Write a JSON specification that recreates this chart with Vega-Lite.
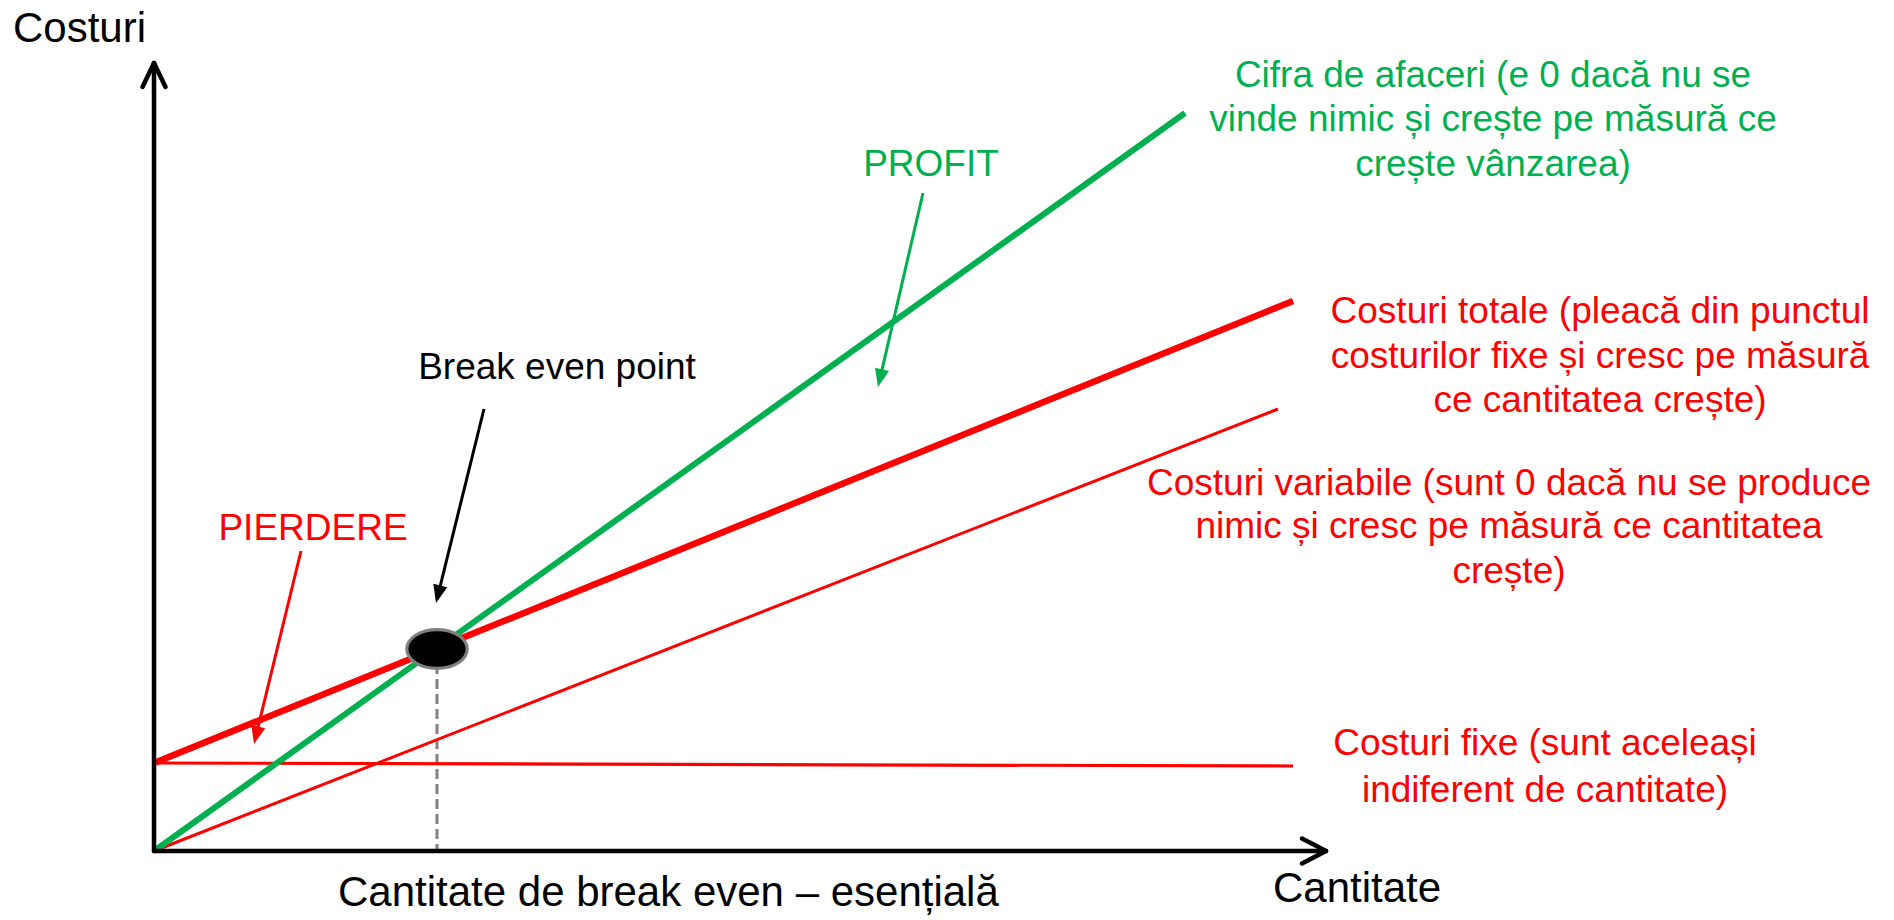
{
  "$schema": "https://vega.github.io/schema/vega-lite/v6.json",
  "width": 1894,
  "height": 920,
  "padding": 0,
  "autosize": {"type": "none"},
  "background": "white",
  "config": {"view": {"stroke": null}, "font": "Liberation Sans"},
  "datasets": {
    "lines": [
      {"series": "Cifra de afaceri", "q": 0, "c": 0, "q2": 103.1, "c2": 73.8},
      {"series": "Costuri totale", "q": 0, "c": 8.8, "q2": 113.9, "c2": 55.0},
      {"series": "Costuri variabile", "q": 0, "c": 0, "q2": 112.4, "c2": 44.2},
      {"series": "Costuri fixe", "q": 0, "c": 8.8, "q2": 113.9, "c2": 8.5}
    ],
    "axes": [
      {"part": "y", "q": 0, "c": 0, "q2": 0, "c2": 78.8},
      {"part": "x", "q": 0, "c": 0, "q2": 117.2, "c2": 0},
      {"part": "y-head-l", "q": -1.15, "c": 76.4, "q2": 0, "c2": 78.8},
      {"part": "y-head-r", "q": 1.15, "c": 76.4, "q2": 0, "c2": 78.8},
      {"part": "x-head-u", "q": 114.8, "c": 1.25, "q2": 117.2, "c2": 0},
      {"part": "x-head-d", "q": 114.8, "c": -1.25, "q2": 117.2, "c2": 0}
    ],
    "breakeven": [
      {"q": 28.3, "c": 20.2, "q2": 28.3, "c2": 0}
    ],
    "arrow_green": [
      {"q": 76.9, "c": 65.8, "qe": 72.67, "ce": 47.57, "qt": 72.4, "ct": 46.4}
    ],
    "arrow_black": [
      {"q": 33.0, "c": 44.2, "qe": 28.49, "ce": 25.96, "qt": 28.2, "ct": 24.8}
    ],
    "arrow_red": [
      {"q": 14.7, "c": 30.0, "qe": 10.28, "ce": 11.87, "qt": 10.0, "ct": 10.7}
    ],
    "text_axis": [
      {"label": "Costuri", "q": -14.1, "c": 80.9},
      {"label": "Cantitate de break even – esențială", "q": 18.4, "c": -5.5},
      {"label": "Cantitate", "q": 111.9, "c": -5.1}
    ],
    "text_black": [
      {"label": "Break even point", "q": 40.3, "c": 47.2}
    ],
    "text_green": [
      {"label": "PROFIT", "q": 77.7, "c": 67.5},
      {"label": "Cifra de afaceri (e 0 dacă nu se", "q": 133.9, "c": 76.4},
      {"label": "vinde nimic și crește pe măsură ce", "q": 133.9, "c": 72.0},
      {"label": "crește vânzarea)", "q": 133.9, "c": 67.5}
    ],
    "text_red": [
      {"label": "PIERDERE", "q": 15.9, "c": 31.1},
      {"label": "Costuri totale (pleacă din punctul", "q": 144.6, "c": 52.8},
      {"label": "costurilor fixe și cresc pe măsură", "q": 144.6, "c": 48.3},
      {"label": "ce cantitatea crește)", "q": 144.6, "c": 43.9},
      {"label": "Costuri variabile (sunt 0 dacă nu se produce", "q": 135.5, "c": 35.6},
      {"label": "nimic și cresc pe măsură ce cantitatea", "q": 135.5, "c": 31.3},
      {"label": "crește)", "q": 135.5, "c": 26.8},
      {"label": "Costuri fixe (sunt aceleași", "q": 139.1, "c": 9.6},
      {"label": "indiferent de cantitate)", "q": 139.1, "c": 4.9}
    ]
  },
  "encoding": {
    "x": {"field": "q", "type": "quantitative", "axis": null, "scale": {"domain": [-15.4, 174.0], "nice": false, "zero": false}},
    "y": {"field": "c", "type": "quantitative", "axis": null, "scale": {"domain": [-6.9, 85.1], "nice": false, "zero": false}}
  },
  "layer": [
    {
      "data": {"name": "breakeven"},
      "mark": {"type": "rule", "color": "#808080", "strokeWidth": 3, "strokeDash": [10, 5]},
      "encoding": {"x2": {"field": "q2"}, "y2": {"field": "c2"}}
    },
    {
      "data": {"name": "lines"},
      "transform": [{"filter": "datum.series == 'Costuri fixe'"}],
      "mark": {"type": "rule", "color": "#FF0000", "strokeWidth": 3.2},
      "encoding": {"x2": {"field": "q2"}, "y2": {"field": "c2"}}
    },
    {
      "data": {"name": "lines"},
      "transform": [{"filter": "datum.series == 'Costuri variabile'"}],
      "mark": {"type": "rule", "color": "#FF0000", "strokeWidth": 3},
      "encoding": {"x2": {"field": "q2"}, "y2": {"field": "c2"}}
    },
    {
      "data": {"name": "lines"},
      "transform": [{"filter": "datum.series == 'Costuri totale'"}],
      "mark": {"type": "rule", "color": "#FF0000", "strokeWidth": 6.5},
      "encoding": {"x2": {"field": "q2"}, "y2": {"field": "c2"}}
    },
    {
      "data": {"name": "lines"},
      "transform": [{"filter": "datum.series == 'Cifra de afaceri'"}],
      "mark": {"type": "rule", "color": "#00B050", "strokeWidth": 6},
      "encoding": {"x2": {"field": "q2"}, "y2": {"field": "c2"}}
    },
    {
      "data": {"name": "axes"},
      "mark": {"type": "rule", "color": "#000000", "strokeWidth": 4.5, "strokeCap": "round"},
      "encoding": {"x2": {"field": "q2"}, "y2": {"field": "c2"}}
    },
    {
      "data": {"name": "breakeven"},
      "mark": {
        "type": "point",
        "shape": "M1,0C1,0.356 0.552,0.644 0,0.644C-0.552,0.644 -1,0.356 -1,0C-1,-0.356 -0.552,-0.644 0,-0.644C0.552,-0.644 1,-0.356 1,0Z",
        "size": 3650,
        "filled": true,
        "fill": "#000000",
        "stroke": "#808080",
        "strokeWidth": 3.2,
        "opacity": 1,
        "fillOpacity": 1,
        "strokeOpacity": 1
      }
    },
    {
      "data": {"name": "arrow_green"},
      "mark": {"type": "rule", "color": "#00B050", "strokeWidth": 3},
      "encoding": {"x2": {"field": "qe"}, "y2": {"field": "ce"}}
    },
    {
      "data": {"name": "arrow_green"},
      "mark": {"type": "point", "shape": "M0,0L-0.4,-1L0.4,-1Z", "size": 1296, "angle": 13.1, "filled": true, "color": "#00B050", "opacity": 1},
      "encoding": {"x": {"field": "qt", "type": "quantitative"}, "y": {"field": "ct", "type": "quantitative"}}
    },
    {
      "data": {"name": "arrow_black"},
      "mark": {"type": "rule", "color": "#000000", "strokeWidth": 3},
      "encoding": {"x2": {"field": "qe"}, "y2": {"field": "ce"}}
    },
    {
      "data": {"name": "arrow_black"},
      "mark": {"type": "point", "shape": "M0,0L-0.4,-1L0.4,-1Z", "size": 1296, "angle": 13.9, "filled": true, "color": "#000000", "opacity": 1},
      "encoding": {"x": {"field": "qt", "type": "quantitative"}, "y": {"field": "ct", "type": "quantitative"}}
    },
    {
      "data": {"name": "arrow_red"},
      "mark": {"type": "rule", "color": "#FF0000", "strokeWidth": 3},
      "encoding": {"x2": {"field": "qe"}, "y2": {"field": "ce"}}
    },
    {
      "data": {"name": "arrow_red"},
      "mark": {"type": "point", "shape": "M0,0L-0.4,-1L0.4,-1Z", "size": 1296, "angle": 13.7, "filled": true, "color": "#FF0000", "opacity": 1},
      "encoding": {"x": {"field": "qt", "type": "quantitative"}, "y": {"field": "ct", "type": "quantitative"}}
    },
    {
      "data": {"name": "text_axis"},
      "mark": {"type": "text", "font": "Liberation Sans", "fontSize": 42, "color": "#000000", "align": "left", "baseline": "alphabetic"},
      "encoding": {"text": {"field": "label"}}
    },
    {
      "data": {"name": "text_black"},
      "mark": {"type": "text", "font": "Liberation Sans", "fontSize": 37, "color": "#000000", "align": "center", "baseline": "alphabetic"},
      "encoding": {"text": {"field": "label"}}
    },
    {
      "data": {"name": "text_green"},
      "mark": {"type": "text", "font": "Liberation Sans", "fontSize": 37, "color": "#00B050", "align": "center", "baseline": "alphabetic"},
      "encoding": {"text": {"field": "label"}}
    },
    {
      "data": {"name": "text_red"},
      "mark": {"type": "text", "font": "Liberation Sans", "fontSize": 37, "color": "#FF0000", "align": "center", "baseline": "alphabetic"},
      "encoding": {"text": {"field": "label"}}
    }
  ]
}
